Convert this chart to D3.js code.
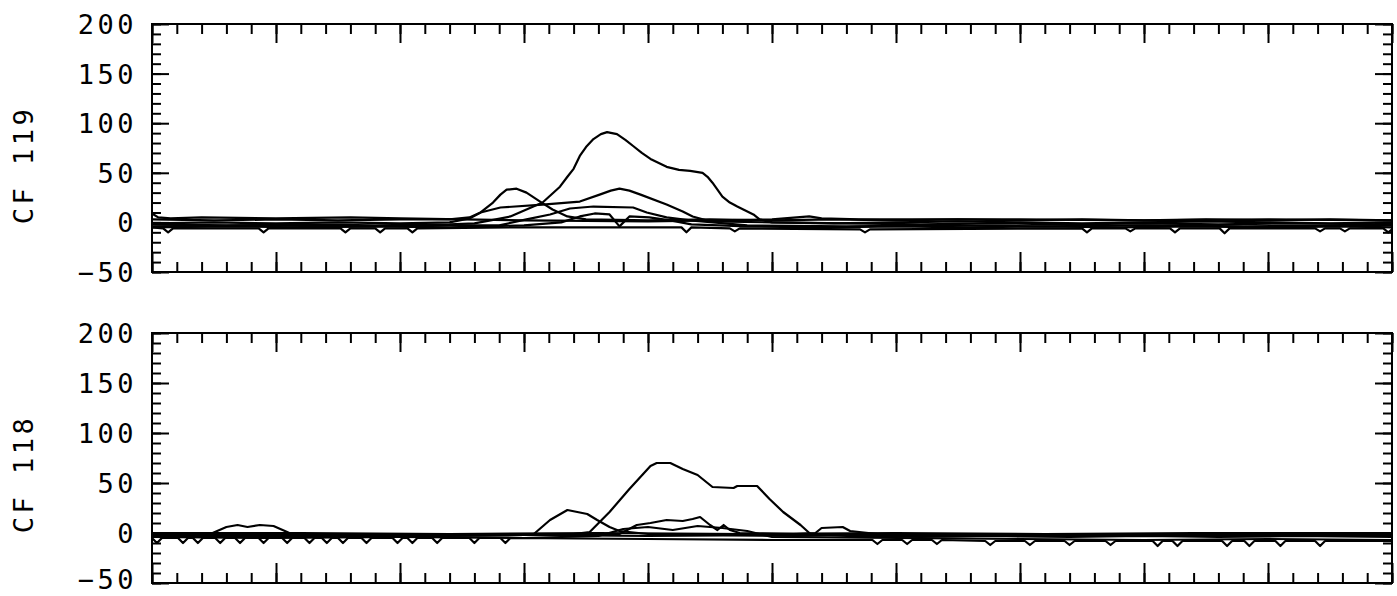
<!DOCTYPE html>
<html>
<head>
<meta charset="UTF-8">
<title>CF 119 / CF 118</title>
<script src="https://d3js.org/d3.v7.min.js"></script>
<style>
  body { margin: 0; background: #fff; }
  svg { display: block; }
  .lbl { font-family: "DejaVu Sans Mono", monospace; font-size: 27px; fill: #000; letter-spacing: 3.5px; }
</style>
</head>
<body>
<div id="chart"></div>
<script>
// y axis labels
const yMajor = [-50, 0, 50, 100, 150, 200];
const yLabels = ["-50", "0", "50", "100", "150", "200"];

// CF 119 traces, [x, value]
const cf119_peak = [[0,-2],[6,-3],[12,-2],[18,-3],[24,-2],[26,-1],[27.3,2],[28.9,6],[30.2,13],[31.5,20],[32.9,36],[33.5,46],[34.0,54],[34.5,67],[35.0,76],[35.6,84],[36.2,89],[36.7,91],[37.5,89],[38.2,83],[38.8,77],[39.5,70],[40.2,64],[41.5,56],[42.5,53],[43.4,52],[44.4,50],[44.8,46],[45.2,40],[46.0,26],[46.6,20],[47.2,16],[48.5,8],[49.0,3],[50,0],[56,-1],[62,-2],[68,-1],[74,-2],[80,-1],[86,-2],[92,-1],[100,-2]];
const cf119_early = [[0,3],[5,2],[10,3],[15,2],[20,3],[24,3],[25.6,5],[26.5,10],[27.5,20],[28.1,28],[28.6,33],[29.4,34],[30.2,30],[31.3,21],[32.3,13],[33.5,6],[35,3],[40,2],[45,3],[50,2],[55,3],[60,2],[65,3],[70,2],[75,3],[80,2],[85,3],[90,2],[95,3],[100,2]];
const cf119_mid = [[0,-1],[5,0],[10,-1],[15,0],[20,-1],[24,0],[25.6,4],[26.5,10],[28.1,15],[31.5,18],[34.5,21],[36.1,28],[37.0,32],[37.7,34],[38.5,32],[39.4,28],[41.5,18],[42.8,11],[43.6,6],[45,1],[50,0],[55,-1],[60,0],[65,1],[70,0],[75,-1],[80,0],[85,1],[90,0],[95,-1],[100,0]];
const cf119_flat = [[0,-4],[8,-3],[16,-4],[24,-3],[28,-3],[30.2,3],[32.1,8],[33.7,14],[35.6,16],[38.8,15],[39.9,10],[41.5,5],[43.4,2],[48,-3],[56,-4],[64,-3],[72,-4],[80,-3],[88,-4],[100,-3]];
const cf119_low = [[0,-5],[6,-4],[12,-5],[18,-4],[24,-5],[30,-3],[33,0],[34.5,6],[35.7,9],[36.9,8],[37.7,-4],[38.5,6],[40.1,5],[41.8,2],[43.5,-2],[48,-4],[54,-5],[60,-4],[66,-5],[72,-4],[78,-5],[84,-4],[90,-5],[96,-4],[100,-5]];
const cf119_top = [[0,9],[0.5,5],[1.5,4],[4,5],[10,4],[16,5],[20,4],[25,3],[30,2],[40,1],[50,3],[53,6],[54,4],[57,3],[60,3],[70,3],[80,2],[90,3],[100,2]];
const cf119_dips = [[0,-5],[0.9,-6],[1.3,-10],[1.7,-6],[8.6,-6],[9.0,-10],[9.4,-6],[15.2,-6],[15.6,-10],[16.0,-6],[18.0,-6],[18.4,-10],[18.8,-6],[20.6,-6],[21.0,-10],[21.4,-6],[30,-5],[42.7,-5],[43.1,-10],[43.5,-5],[46.6,-6],[47.0,-9],[47.4,-6],[57.1,-7],[57.5,-10],[57.9,-7],[75.0,-6],[75.4,-10],[75.8,-6],[78.5,-6],[78.9,-9],[79.3,-6],[82.1,-6],[82.5,-10],[82.9,-6],[86.1,-6],[86.5,-11],[86.9,-6],[93.8,-6],[94.2,-9],[94.6,-6],[95.8,-6],[96.2,-9],[96.6,-6],[99.3,-6],[99.7,-10],[100,-7]];

// CF 118 traces
const cf118_peak = [[0,-3],[6,-4],[12,-3],[18,-4],[24,-3],[30,-2],[34,-1],[35.3,1],[36.9,21],[38.5,44],[40.2,67],[40.7,70],[41.8,70],[42.8,64],[44.0,58],[45.2,46],[46.9,45],[47.2,47],[48.8,47],[49.8,34],[50.9,21],[52.3,8],[53.1,-1],[56,-3],[62,-4],[68,-3],[74,-4],[80,-3],[86,-4],[92,-3],[100,-4]];
const cf118_early = [[0,-2],[6,-3],[12,-2],[18,-3],[24,-2],[28,-2],[30.7,-2],[32.1,13],[33.5,23],[34.3,21],[35.1,19],[35.9,13],[36.9,6],[37.7,2],[40,-1],[46,-2],[52,-3],[58,-2],[64,-3],[70,-2],[76,-3],[82,-2],[88,-3],[94,-2],[100,-3]];
const cf118_mound = [[0,-1],[8,-2],[16,-1],[24,-2],[32,-1],[37.7,-1],[39.1,8],[40.2,10],[41.5,13],[42.8,12],[43.6,14],[44.2,16],[45.0,8],[45.6,3],[46.1,8],[46.6,3],[47.4,0],[52,-1],[60,-2],[68,-1],[76,-2],[84,-1],[92,-2],[100,-1]];
const cf118_side = [[0,-2],[4.7,-1],[6.0,6],[6.9,8],[7.7,6],[8.7,8],[9.8,7],[10.9,1],[11.4,-2],[20,-3],[30,-2],[40,-3],[50,-2],[53.5,0],[54.0,5],[55.7,6],[56.3,2],[60,-3],[70,-2],[80,-3],[90,-2],[100,-3]];
const cf118_low = [[0,-4],[10,-5],[20,-4],[30,-5],[36,-3],[38,4],[40,6],[42,3],[44,7],[46,5],[48,2],[50,-4],[60,-5],[70,-6],[80,-7],[90,-6],[100,-7]];
const cf118_top = [[0,0],[12,0],[24,-1],[36,0],[48,-1],[60,0],[72,-1],[84,0],[100,0]];
const cf118_dips = [[0,-5],[0.4,-10],[0.8,-5],[2.1,-5],[2.5,-10],[2.9,-5],[3.3,-5],[3.7,-10],[4.1,-5],[5.1,-5],[5.5,-10],[5.9,-5],[6.7,-5],[7.1,-10],[7.5,-5],[8.6,-5],[9.0,-10],[9.4,-5],[10.5,-5],[10.9,-10],[11.3,-5],[12.3,-5],[12.7,-10],[13.1,-5],[13.7,-5],[14.1,-10],[14.5,-5],[15.0,-5],[15.4,-10],[15.8,-5],[16.9,-5],[17.3,-10],[17.7,-5],[19.4,-5],[19.8,-10],[20.2,-5],[20.6,-5],[21.0,-10],[21.4,-5],[22.6,-5],[23.0,-10],[23.4,-5],[25.6,-5],[26.0,-10],[26.4,-5],[28.1,-5],[28.5,-10],[28.9,-5],[40,-6],[50,-7],[58.1,-7],[58.5,-11],[58.9,-7],[60.5,-7],[60.9,-11],[61.3,-7],[62.9,-7],[63.3,-11],[63.7,-7],[67.2,-8],[67.6,-12],[68.0,-8],[70.4,-8],[70.8,-12],[71.2,-8],[73.6,-8],[74.0,-12],[74.4,-8],[76.9,-8],[77.3,-12],[77.7,-8],[80.7,-8],[81.1,-13],[81.5,-8],[82.3,-8],[82.7,-13],[83.1,-8],[86.3,-8],[86.7,-13],[87.1,-8],[88.1,-8],[88.5,-13],[88.9,-8],[90.6,-8],[91.0,-13],[91.4,-8],[93.8,-8],[94.2,-13],[94.6,-8],[100,-8]];

const width = 1397, height = 596;
const left = 152, right = 1392;

const panels = [
  { name: "CF 119", top: 24, bottom: 272, labelY: 165,
    series: [cf119_top, cf119_early, cf119_mid, cf119_flat, cf119_low, cf119_dips, cf119_peak] },
  { name: "CF 118", top: 333, bottom: 583, labelY: 474,
    series: [cf118_top, cf118_side, cf118_early, cf118_mound, cf118_low, cf118_dips, cf118_peak] }
];

const svg = d3.select("#chart").append("svg")
  .attr("width", width)
  .attr("height", height);

const x = d3.scaleLinear().domain([0, 100]).range([left, right]);

panels.forEach(p => {
  const y = d3.scaleLinear().domain([-50, 200]).range([p.bottom, p.top]);
  const g = svg.append("g");

  const line = d3.line()
    .x(d => x(d[0]))
    .y(d => y(d[1]));

  g.selectAll("path.trace")
    .data(p.series)
    .enter().append("path")
    .attr("class", "trace")
    .attr("d", line)
    .attr("fill", "none")
    .attr("stroke", "#000")
    .attr("stroke-width", 2.2)
    .attr("stroke-linejoin", "round");

  // tick marks, all pointing inward
  const addAxis = (axis, tx, ty) => {
    const a = g.append("g").attr("transform", `translate(${tx},${ty})`).call(axis);
    a.select(".domain").remove();
    a.selectAll("line").attr("stroke", "#000").attr("stroke-width", 2);
    a.selectAll("text").remove();
  };
  const xMinor = d3.range(0, 101, 2), xMajor = d3.range(0, 101, 10);
  const yMinor = d3.range(-50, 201, 10);

  addAxis(d3.axisTop(x).tickValues(xMinor).tickSize(-10).tickFormat(""), 0, p.top);
  addAxis(d3.axisTop(x).tickValues(xMajor).tickSize(-19).tickFormat(""), 0, p.top);
  addAxis(d3.axisBottom(x).tickValues(xMinor).tickSize(-10).tickFormat(""), 0, p.bottom);
  addAxis(d3.axisBottom(x).tickValues(xMajor).tickSize(-20).tickFormat(""), 0, p.bottom);
  addAxis(d3.axisLeft(y).tickValues(yMinor).tickSize(-9).tickFormat(""), left, 0);
  addAxis(d3.axisLeft(y).tickValues(yMajor).tickSize(-17).tickFormat(""), left, 0);
  addAxis(d3.axisRight(y).tickValues(yMinor).tickSize(-9).tickFormat(""), right, 0);
  addAxis(d3.axisRight(y).tickValues(yMajor).tickSize(-17).tickFormat(""), right, 0);

  // frame
  g.append("rect")
    .attr("x", left).attr("y", p.top)
    .attr("width", right - left).attr("height", p.bottom - p.top)
    .attr("fill", "none").attr("stroke", "#000").attr("stroke-width", 2);

  // tick labels
  g.selectAll("text.tl")
    .data(yMajor)
    .enter().append("text")
    .attr("class", "lbl tl")
    .attr("x", 137)
    .attr("y", d => Math.min(y(d) + 10, 589))
    .attr("text-anchor", "end")
    .text((d, i) => yLabels[i].replace("-", "\u2212"));

  g.append("text")
    .attr("class", "lbl")
    .attr("transform", `translate(33,${p.labelY}) rotate(-90)`)
    .attr("text-anchor", "middle")
    .text(p.name);
});
</script>
</body>
</html>
